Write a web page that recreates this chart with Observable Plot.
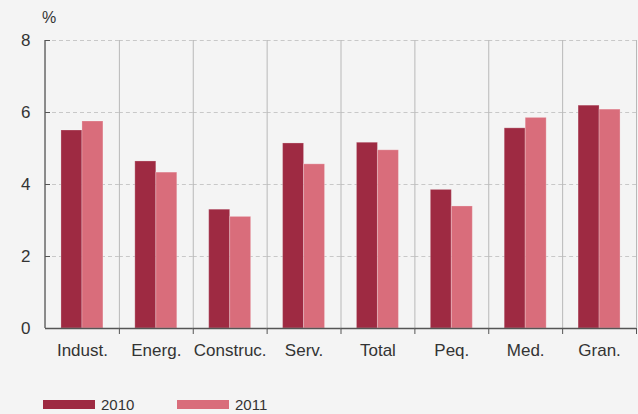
<!DOCTYPE html>
<html>
<head>
<meta charset="utf-8">
<script src="https://cdn.jsdelivr.net/npm/d3@7"></script>
<script src="https://cdn.jsdelivr.net/npm/@observablehq/plot@0.6"></script>
<style>
  html, body { margin: 0; padding: 0; background: #f4f4f4; }
  #wrap { position: relative; width: 638px; height: 414px; font-family: "Liberation Sans", Arial, sans-serif; color: #333; }
  #unit { position: absolute; left: 42px; top: 9px; font-size: 16px; }
  #legend { position: absolute; left: 0; top: 396px; width: 638px; height: 18px; font-size: 15px; }
  .item { position: absolute; top: 0; display: flex; align-items: center; }
  .sw { width: 52px; height: 9px; margin-right: 6px; }
</style>
</head>
<body>
<div id="wrap">
  <div id="chart"></div>
  <div id="unit">%</div>
  <div id="legend"></div>
</div>
<script>
const categories = ["Indust.", "Energ.", "Construc.", "Serv.", "Total", "Peq.", "Med.", "Gran."];
const years = ["2010", "2011"];
const values2010 = [5.50, 4.64, 3.30, 5.14, 5.16, 3.85, 5.56, 6.19];
const values2011 = [5.75, 4.33, 3.10, 4.56, 4.95, 3.39, 5.85, 6.08];
const yTicks = [0, 2, 4, 6, 8];
const colors = ["#9e2a42", "#d96d7b"];

const data = categories.flatMap((c, i) => [
  {cat: c, year: years[0], value: values2010[i]},
  {cat: c, year: years[1], value: values2011[i]}
]);

const chart = Plot.plot({
  width: 638,
  height: 380,
  marginTop: 40,
  marginBottom: 52,
  marginLeft: 45,
  marginRight: 2,
  style: {background: "#f4f4f4", fontFamily: "Liberation Sans, Arial, sans-serif", color: "#333", overflow: "visible"},
  fx: {domain: categories, paddingInner: 0, paddingOuter: 0, round: false, label: null},
  x: {domain: years, paddingInner: 0, paddingOuter: 0.76, round: false, axis: null},
  y: {domain: [0, 8], label: null},
  color: {domain: years, range: colors},
  marks: [
    Plot.gridY(yTicks, {stroke: "#c8c8c8", strokeOpacity: 1, strokeDasharray: "4,3"}),
    Plot.frame({anchor: "right", stroke: "#b8b8b8"}),
    Plot.barY(data, {fx: "cat", x: "year", y: "value", fill: "year", stroke: "#ffffff", strokeOpacity: 0.25}),
    Plot.frame({anchor: "right", stroke: "#555", insetTop: 288, insetBottom: -5}),
    Plot.rect([categories[0]], {fx: d => d, fill: "#6a6a6a", insetLeft: -0.75, insetRight: 73.1}),
    Plot.axisY(yTicks, {anchor: "left", tickSize: 5, dx: 5, stroke: "#555", tickFormat: () => "", label: null}),
    Plot.axisY(yTicks, {anchor: "left", tickSize: 0, tickPadding: 15, fontSize: 17, fill: "#333", label: null}),
    Plot.ruleY([0], {stroke: "#555", strokeWidth: 1.5}),
    Plot.axisFx({anchor: "bottom", tickSize: 0, tickPadding: 15, fontSize: 17, fill: "#333", label: null})
  ]
});
document.getElementById("chart").appendChild(chart);

const legend = document.getElementById("legend");
const lefts = [43, 177];
years.forEach((y, i) => {
  const item = document.createElement("div");
  item.className = "item";
  item.style.left = lefts[i] + "px";
  item.innerHTML = `<div class="sw" style="background:${colors[i]}"></div><span>${y}</span>`;
  legend.appendChild(item);
});
</script>
</body>
</html>
